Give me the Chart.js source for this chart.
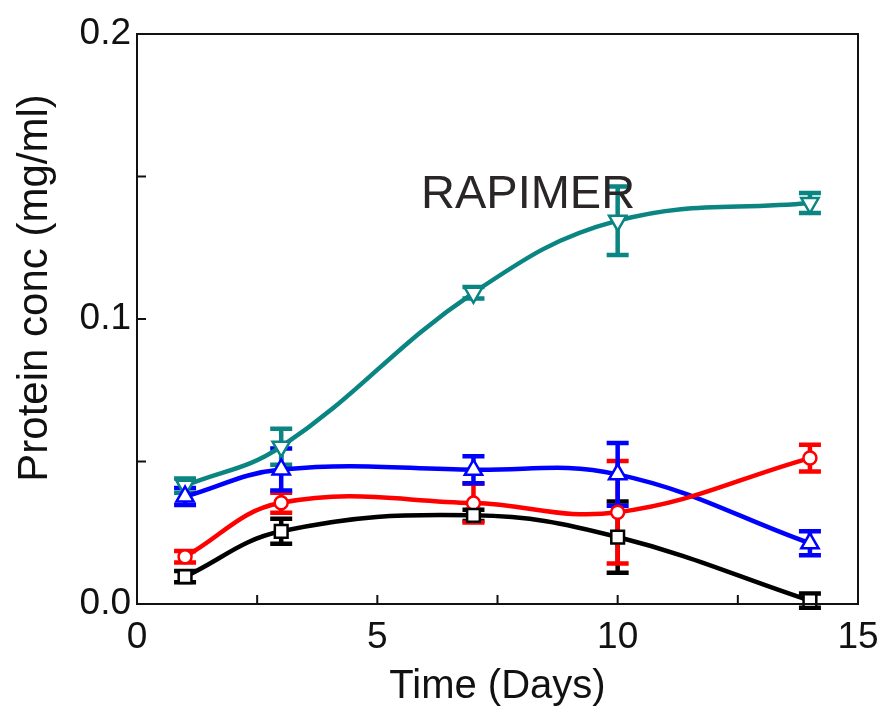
<!DOCTYPE html>
<html>
<head>
<meta charset="utf-8">
<script src="https://cdn.jsdelivr.net/npm/chart.js@4.4.0/dist/chart.umd.min.js"></script>
<style>
  html, body { margin: 0; padding: 0; background: #fff; }
</style>
</head>
<body>
<canvas id="chart" width="885" height="709"></canvas>
<script>
// values
const days = [1, 3, 7, 10, 14];

const black = [0.0096, 0.0255, 0.0311, 0.0235, 0.0012];
const blackErr = [0.002, 0.0044, 0.002, 0.0125, 0.0025];

const red = [0.0166, 0.0355, 0.0354, 0.0322, 0.0512];
const redErr = [0.002, 0.0035, 0.0068, 0.018, 0.0047];

const blue = [0.0377, 0.0472, 0.0471, 0.0455, 0.0213];
const blueErr = [0.003, 0.0074, 0.0047, 0.011, 0.0042];

const teal = [0.0415, 0.0552, 0.1092, 0.1345, 0.1407];
const tealErr = [0.0025, 0.0063, 0.002, 0.012, 0.0035];

const xTicks = [0, 2.5, 5, 7.5, 10, 12.5, 15];
const xLabels = ['0', '', '5', '', '10', '', '15'];
const yTicks = [0, 0.05, 0.1, 0.15, 0.2];
const yLabels = ['0.0', '', '0.1', '', '0.2'];

const xTitle = 'Time (Days)';
const yTitle = 'Protein conc (mg/ml)';
const note = 'RAPIMER';

const FONT = '"Liberation Sans", Arial, sans-serif';

function series(vals, errs, color, shape, rot, r) {
  return {
    data: days.map((d, i) => ({ x: d, y: vals[i] })),
    errs: errs,
    borderColor: color,
    borderWidth: 4.5,
    pointStyle: shape,
    rotation: rot,
    pointRadius: r,
    pointBorderWidth: 2.5,
    pointBackgroundColor: '#fff',
    pointBorderColor: color,
    tension: 0.4,
    fill: false,
    clip: false
  };
}

// error bars go under the lines and markers
const errorBars = {
  id: 'errorBars',
  beforeDatasetsDraw(chart) {
    const { ctx, scales: { x, y } } = chart;
    ctx.save();
    ctx.lineWidth = 4.5;
    chart.data.datasets.forEach(ds => {
      ctx.strokeStyle = ds.borderColor;
      ds.data.forEach((p, i) => {
        const px = x.getPixelForValue(p.x);
        const top = y.getPixelForValue(p.y + ds.errs[i]);
        const bot = y.getPixelForValue(p.y - ds.errs[i]);
        ctx.beginPath();
        ctx.moveTo(px, top); ctx.lineTo(px, bot);
        ctx.moveTo(px - 11, top); ctx.lineTo(px + 11, top);
        ctx.moveTo(px - 11, bot); ctx.lineTo(px + 11, bot);
        ctx.stroke();
      });
    });
    ctx.restore();
  }
};

// box, inward ticks, rotated y title and the RAPIMER note
const frame = {
  id: 'frame',
  afterDraw(chart) {
    const { ctx, chartArea: a, scales: { x, y } } = chart;
    ctx.save();
    ctx.strokeStyle = '#111';
    ctx.lineWidth = 2;
    ctx.strokeRect(a.left, a.top, a.right - a.left, a.bottom - a.top);
    ctx.beginPath();
    xTicks.forEach(v => {
      const px = x.getPixelForValue(v);
      ctx.moveTo(px, a.bottom); ctx.lineTo(px, a.bottom - 9);
    });
    yTicks.forEach(v => {
      const py = y.getPixelForValue(v);
      ctx.moveTo(a.left, py); ctx.lineTo(a.left + 9, py);
    });
    ctx.stroke();

    ctx.fillStyle = '#2a2627';
    ctx.font = '47px ' + FONT;
    ctx.textAlign = 'left';
    ctx.textBaseline = 'alphabetic';
    ctx.fillText(note, 421, 208);

    ctx.fillStyle = '#111';
    ctx.translate(35, 288);
    ctx.rotate(-Math.PI / 2);
    ctx.font = '42px ' + FONT;
    ctx.textAlign = 'center';
    ctx.textBaseline = 'middle';
    ctx.fillText(yTitle, 0, 0);
    ctx.restore();
  }
};

new Chart(document.getElementById('chart'), {
  type: 'line',
  data: {
    datasets: [
      series(black, blackErr, '#000000', 'rect', 0, 9),
      series(red, redErr, '#ff0000', 'circle', 0, 6.5),
      series(blue, blueErr, '#0000ff', 'triangle', 0, 10),
      series(teal, tealErr, '#0b8582', 'triangle', 180, 10)
    ]
  },
  options: {
    responsive: false,
    animation: false,
    layout: { padding: { top: 34, right: 27, left: 0, bottom: 0 } },
    plugins: { legend: { display: false }, tooltip: { enabled: false } },
    scales: {
      x: {
        type: 'linear',
        min: 0,
        max: 15,
        afterBuildTicks: s => { s.ticks = xTicks.map(v => ({ value: v })); },
        afterFit: s => { s.height = 105; s.paddingLeft = 0; s.paddingRight = 0; },
        grid: { display: false, drawTicks: false },
        border: { display: false },
        ticks: {
          autoSkip: false,
          maxRotation: 0,
          padding: 12,
          color: '#111',
          font: { family: FONT, size: 37 },
          callback: (v, i) => xLabels[i]
        },
        title: {
          display: true,
          text: xTitle,
          color: '#111',
          font: { family: FONT, size: 40, lineHeight: 1.1 },
          padding: { top: 0, bottom: 0 }
        }
      },
      y: {
        min: 0,
        max: 0.2,
        afterBuildTicks: s => { s.ticks = yTicks.map(v => ({ value: v })); },
        afterFit: s => { s.width = 137; },
        grid: { display: false, drawTicks: false },
        border: { display: false },
        ticks: {
          autoSkip: false,
          padding: 6,
          color: '#111',
          font: { family: FONT, size: 37 },
          callback: (v, i) => yLabels[i]
        }
      }
    }
  },
  plugins: [errorBars, frame]
});
</script>
</body>
</html>
